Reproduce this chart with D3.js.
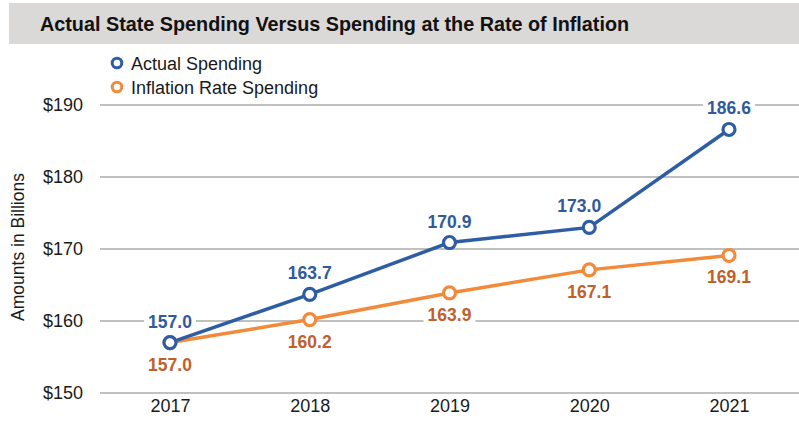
<!DOCTYPE html>
<html>
<head>
<meta charset="utf-8">
<script src="https://cdn.jsdelivr.net/npm/d3@7"></script>
<style>
  html, body { margin: 0; padding: 0; background: #fff; }
  svg { display: block; font-family: "Liberation Sans", Arial, sans-serif; }
</style>
</head>
<body>
<svg id="chart" width="799" height="430"></svg>
<script>
// Chart data
const years = ["2017", "2018", "2019", "2020", "2021"];
const actualSpending = [157.0, 163.7, 170.9, 173.0, 186.6];
const inflationSpending = [157.0, 160.2, 163.9, 167.1, 169.1];
const yTicks = [150, 160, 170, 180, 190];
const seriesNames = ["Actual Spending", "Inflation Rate Spending"];

const W = 799, H = 430;
const svg = d3.select("#chart");

// Title banner
svg.append("rect")
  .attr("x", 9).attr("y", 3).attr("width", W - 9).attr("height", 41)
  .attr("fill", "#dad9d8");
svg.append("text")
  .attr("x", 40).attr("y", 31)
  .attr("font-size", 19.8).attr("font-weight", "bold").attr("fill", "#111")
  .text("Actual State Spending Versus Spending at the Rate of Inflation");

// Scales
const x = d3.scalePoint().domain(years).range([170, 729]);
const y = d3.scaleLinear().domain([150, 190]).range([393, 105]);

// Gridlines
svg.append("g").selectAll("line").data(yTicks).join("line")
  .attr("x1", 100).attr("x2", W)
  .attr("y1", d => y(d)).attr("y2", d => y(d))
  .attr("stroke", "#c0c0c0").attr("stroke-width", 2);

// Y axis labels
const yAxis = d3.axisLeft(y).tickValues(yTicks).tickFormat(d => "$" + d).tickSize(0).tickPadding(0);
const yg = svg.append("g").attr("transform", "translate(83,0)").call(yAxis);
yg.select(".domain").remove();
yg.selectAll("text").attr("font-size", 18).attr("fill", "#1a1a1a")
  .attr("font-family", "Liberation Sans, Arial, sans-serif");

// X axis labels
const xAxis = d3.axisBottom(x).tickSize(0).tickPadding(0);
const xg = svg.append("g").attr("transform", "translate(0,399)").call(xAxis);
xg.select(".domain").remove();
xg.selectAll("text").attr("font-size", 18).attr("fill", "#1a1a1a")
  .attr("font-family", "Liberation Sans, Arial, sans-serif");

// Y axis title
svg.append("text")
  .attr("transform", "translate(24,247) rotate(-90)")
  .attr("text-anchor", "middle").attr("font-size", 17.5).attr("fill", "#1a1a1a")
  .text("Amounts in Billions");

const series = [
  { name: seriesNames[0], values: actualSpending, line: "#2e5da4", label: "#2f5a9c", dy: -15 },
  { name: seriesNames[1], values: inflationSpending, line: "#f28a3a", label: "#c0602c", dy: 28 }
];

// Nudge a label sideways where it would sit on a line segment
const labelShift = (s, i) => (s === series[0] && i === 3 ? -10 : 0);

const lineGen = d3.line().x((d, i) => x(years[i])).y(d => y(d));

// Value-label groups (white backing breaks the gridlines)
const labelGroups = series.map(s =>
  svg.append("g").selectAll("g").data(s.values).join("g")
    .attr("transform", (d, i) => `translate(${x(years[i]) + labelShift(s, i)},${y(d) + s.dy})`)
);
labelGroups.forEach(g => {
  g.append("rect")
    .attr("x", -26).attr("y", -15).attr("width", 52).attr("height", 19)
    .attr("fill", "#fff");
});

// Lines drawn bottom series first
[series[1], series[0]].forEach(s => {
  svg.append("path").datum(s.values)
    .attr("d", lineGen).attr("fill", "none")
    .attr("stroke", s.line).attr("stroke-width", 3.5);
});

// Markers
[series[1], series[0]].forEach(s => {
  svg.append("g").selectAll("circle").data(s.values).join("circle")
    .attr("cx", (d, i) => x(years[i])).attr("cy", d => y(d))
    .attr("r", 6).attr("fill", "#fff")
    .attr("stroke", s.line).attr("stroke-width", 3.2);
});

// Value label text
labelGroups.forEach((g, k) => {
  g.append("text")
    .attr("text-anchor", "middle").attr("font-size", 17.5).attr("font-weight", "bold")
    .attr("fill", series[k].label)
    .text(d => d.toFixed(1));
});

// Legend
const legend = svg.append("g").selectAll("g").data(series).join("g")
  .attr("transform", (d, i) => `translate(117,${63 + i * 24})`);
legend.append("circle").attr("r", 4.8).attr("fill", "#fff")
  .attr("stroke", d => d.line).attr("stroke-width", 3);
legend.append("text").attr("x", 14).attr("y", 6.5)
  .attr("font-size", 18).attr("fill", "#1a1a1a")
  .text(d => d.name);
</script>
</body>
</html>
